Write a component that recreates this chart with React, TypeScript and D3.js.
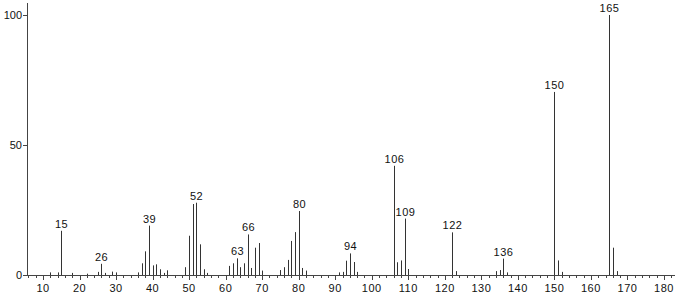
import React from "react";
import * as d3 from "d3";

const mzValues = [12, 14, 15, 18, 22, 25, 26, 27, 29, 30, 36, 37, 38, 39, 40, 41, 42, 43, 44, 49, 50, 51, 52, 53, 54, 55, 61, 62, 63, 64, 65, 66, 67, 68, 69, 70, 75, 76, 77, 78, 79, 80, 81, 82, 91, 92, 93, 94, 95, 96, 106, 107, 108, 109, 110, 122, 123, 134, 135, 136, 137, 150, 151, 152, 165, 166, 167];
const intensities = [1.0, 1.0, 17, 0.8, 0.5, 1.2, 4.3, 0.8, 1.3, 1.0, 1.0, 4.5, 9.1, 19, 3.7, 4.1, 2.2, 0.8, 1.8, 3.0, 15.1, 27.3, 27.8, 11.8, 2.2, 0.8, 3.5, 4.5, 6.4, 3.0, 4.5, 15.6, 2.7, 10.5, 12.3, 1.7, 1.9, 3.0, 5.8, 13.1, 16.5, 24.6, 2.7, 1.7, 1.0, 1.2, 5.5, 8.3, 5.0, 1.2, 42, 4.9, 5.6, 21.7, 2.3, 16.4, 1.5, 1.5, 1.9, 6.3, 1.0, 70.4, 5.6, 1.2, 100, 10.5, 1.5];
const labeledPeaks = [15, 26, 39, 52, 63, 66, 80, 94, 106, 109, 122, 136, 150, 165];
const xMajorTicks = [10, 20, 30, 40, 50, 60, 70, 80, 90, 100, 110, 120, 130, 140, 150, 160, 170, 180];
const yTicks = [0, 50, 100];

export default function App() {
  const W = 680, H = 297;
  const x = d3.scaleLinear().domain([10, 180]).range([43, 664]);
  const y = d3.scaleLinear().domain([0, 100]).range([275, 15]);
  const minorTicks = d3.range(6, 184, 2).filter((v) => v % 10 !== 0);
  const font = "'Liberation Sans', Arial, sans-serif";
  const axisColor = "#444";
  const barColor = "#333";
  return (
    <svg width={W} height={H} style={{ position: "absolute", left: 0, top: 0, background: "#fff" }}>
      {/* bars */}
      {mzValues.map((m, i) => (
        <line key={m} x1={Math.round(x(m)) + 0.5} x2={Math.round(x(m)) + 0.5} y1={y(0)} y2={y(intensities[i])} stroke={barColor} strokeWidth={1} />
      ))}
      {/* peak labels */}
      {labeledPeaks.map((m) => {
        const v = intensities[mzValues.indexOf(m)];
        return (
          <text key={m} x={Math.round(x(m)) + 0.5} y={y(v) - 3} textAnchor="middle" fontFamily={font} fontSize={11} fill="#111" letterSpacing={0.5}>
            {m}
          </text>
        );
      })}
      {/* x axis */}
      <line x1={27} x2={675} y1={275.5} y2={275.5} stroke={axisColor} strokeWidth={1} />
      {minorTicks.map((t) => (
        <line key={"m" + t} x1={Math.round(x(t)) + 0.5} x2={Math.round(x(t)) + 0.5} y1={275} y2={278} stroke={axisColor} />
      ))}
      {xMajorTicks.map((t) => (
        <g key={"M" + t}>
          <line x1={Math.round(x(t)) + 0.5} x2={Math.round(x(t)) + 0.5} y1={275} y2={280} stroke={axisColor} />
          <text x={x(t)} y={292} textAnchor="middle" fontFamily={font} fontSize={11} fill="#111" letterSpacing={0.5}>
            {t}
          </text>
        </g>
      ))}
      {/* y axis */}
      <line x1={27.5} x2={27.5} y1={3} y2={276} stroke={axisColor} strokeWidth={1} />
      {yTicks.map((t) => (
        <g key={"y" + t}>
          <line x1={23} x2={27} y1={Math.round(y(t)) + 0.5} y2={Math.round(y(t)) + 0.5} stroke={axisColor} />
          <text x={22} y={y(t) + 4} textAnchor="end" fontFamily={font} fontSize={11} fill="#111">
            {t}
          </text>
        </g>
      ))}
    </svg>
  );
}
